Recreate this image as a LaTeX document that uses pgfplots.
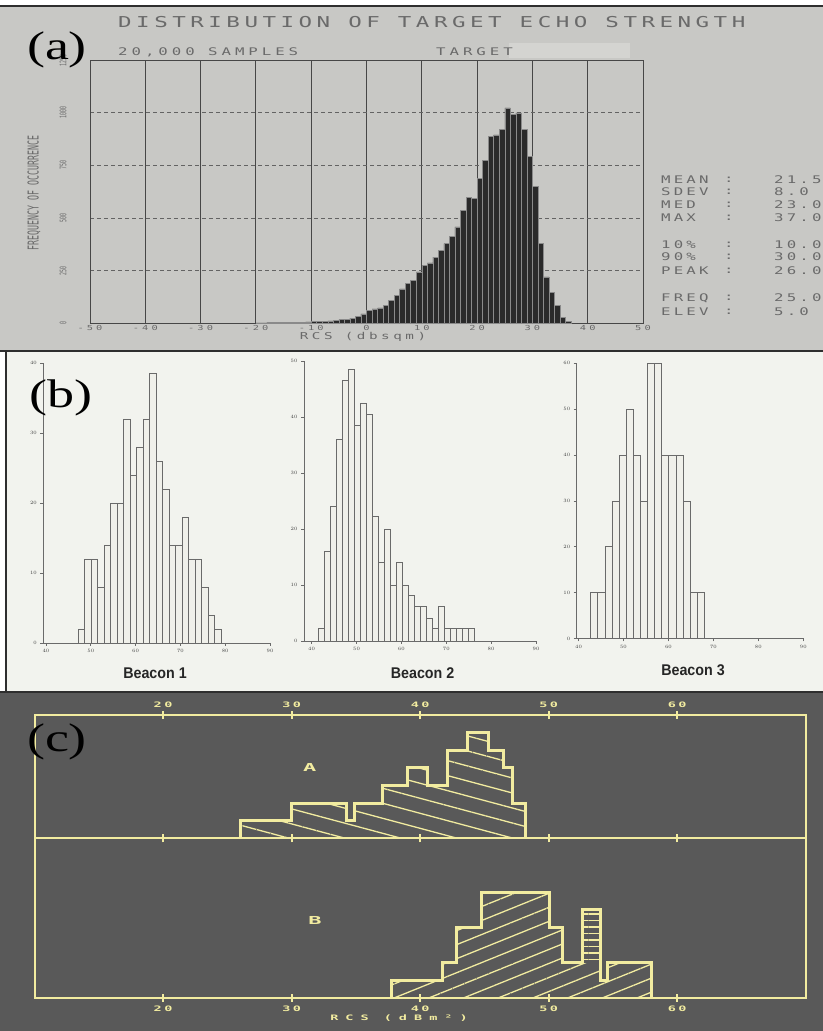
\documentclass[border=0pt]{standalone}
\usepackage{fontspec}
\usepackage{graphicx}
\usepackage{pgfplots}
\pgfplotsset{compat=1.18}
\usetikzlibrary{patterns.meta}
\setmainfont{Liberation Serif}
\newfontfamily\pfont{DejaVu Sans Mono}
\newfontfamily\pfontn{DejaVu Sans Mono}
\newfontfamily\yfont[LetterSpace=18]{DejaVu Sans Mono}
\newfontfamily\bfont{Liberation Sans}
\definecolor{pa}{HTML}{C8C8C5}
\definecolor{pb}{HTML}{F2F3EE}
\definecolor{pc}{HTML}{595959}
\definecolor{ink}{HTML}{6A6A6A}
\definecolor{gridc}{HTML}{474747}
\definecolor{barc}{HTML}{2A2A2A}
\definecolor{bard}{HTML}{8A8A8A}
\definecolor{yel}{HTML}{F2ECA0}
\definecolor{bfill}{HTML}{F0F0EA}
\definecolor{bdraw}{HTML}{6A6A6A}
\definecolor{rule}{HTML}{2E2E2E}
\definecolor{redact}{HTML}{D4D4D1}
% \atext[letter space]{size}{text}
\newcommand\atext[3][30]{\scalebox{1.5}[1]{\fontsize{#2bp}{#2bp}\selectfont\pfont\addfontfeature{LetterSpace=#1}#3}}
\newcommand\ntext[2]{\scalebox{0.55}[1]{\fontsize{#1bp}{#1bp}\selectfont\pfontn #2}}
\newcommand\ctext[1]{\scalebox{1.8}[1]{\fontsize{7.5bp}{8bp}\selectfont\yfont\bfseries #1}}
\newcommand\plbl[1]{\scalebox{1.35}[1]{\fontsize{40bp}{40bp}\selectfont #1}}
\newcommand\beac[1]{\scalebox{0.92}[1]{\fontsize{15.5bp}{15.5bp}\selectfont\bfont\bfseries #1}}
\begin{document}
\begin{tikzpicture}
\begin{scope}[x=1bp,y=1bp]
\useasboundingbox (0,0) rectangle (823,1031);
\fill[white] (0,0) rectangle (823,1031);
\fill[pa] (0,681) rectangle (823,1024);
\draw[rule, line width=1.5bp] (0,1025) -- (823,1025);
\fill[pb] (6,340) rectangle (823,680);
\draw[rule, line width=2bp] (0,680) -- (823,680);
\draw[rule, line width=2bp] (6,339) -- (6,680);
\fill[pc] (0,0) rectangle (823,338);
\draw[rule, line width=2bp] (0,339) -- (823,339);
\fill[redact] (509,973) rectangle (630,988);
\end{scope}

% ================= panel (a) =================
\begin{axis}[at={(90bp,707.7bp)}, anchor=south west, scale only axis,
  width=553bp, height=263bp,
  xmin=-50, xmax=50, ymin=0, ymax=1250,
  axis line style={draw=gridc, line width=1bp},
  xtick={-50,-40,-30,-20,-10,0,10,20,30,40,50},
  xticklabels={\atext{6.9}{-50},\atext{6.9}{-40},\atext{6.9}{-30},\atext{6.9}{-20},\atext{6.9}{-10},\atext{6.9}{0},\atext{6.9}{10},\atext{6.9}{20},\atext{6.9}{30},\atext{6.9}{40},\atext{6.9}{50}},
  ytick={0,250,500,750,1000,1250},
  yticklabels={\ntext{9}{0},\ntext{9}{250},\ntext{9}{500},\ntext{9}{750},\ntext{9}{1000},\ntext{9}{1250}},
  xtick pos=left, ytick pos=left,
  major tick length=0pt, tick style={draw=none},
  yticklabel shift=20bp, xticklabel shift=-1bp,
  yticklabel style={rotate=90, anchor=south, text=ink},
  xticklabel style={text=ink},
  xmajorgrids, ymajorgrids,
  x grid style={solid, draw=gridc, line width=1bp},
  y grid style={dash pattern=on 4bp off 3bp, draw=gridc!85, line width=0.8bp},
]
\addplot[ybar interval, fill=barc, draw=bard, line width=0.5bp] coordinates {
(-20,2)(-19,2)(-18,3)(-17,3)(-16,4)(-15,4)(-14,5)(-13,5)(-12,6)(-11,7)
(-10,8)(-9,9)(-8,10)(-7,12)(-6,14)(-5,17)(-4,20)(-3,25)(-2,32)(-1,45)
(0,60)(1,68)(2,73)(3,84)(4,108)(5,132)(6,164)(7,191)(8,204)(9,244)
(10,275)(11,287)(12,315)(13,347)(14,379)(15,414)(16,458)(17,538)(18,599)(19,594)
(20,689)(21,774)(22,888)(23,896)(24,923)(25,1024)(26,992)(27,1000)(28,920)(29,793)
(30,650)(31,379)(32,220)(33,148)(34,84)(35,29)(36,10)(37,0)};
\end{axis}

% ================= panel (b) =================
\pgfplotsset{beacon/.style={anchor=south west, scale only axis,
  xmax=90, ymin=0, axis lines*=left,
  axis line style={draw=bdraw, line width=0.9bp},
  xtick={40,50,60,70,80,90},
  tick align=outside, major tick length=3bp,
  tick style={draw=bdraw, line width=0.6bp},
  tick label style={font=\fontsize{4.5bp}{5bp}\selectfont, text=black!75}}}
\begin{axis}[beacon, at={(43.3bp,388bp)}, width=226.7bp, height=280bp,
  xmin=39.4, ymax=40, ytick={0,10,20,30,40}]
\addplot[ybar interval=0.88, fill=bfill, draw=bdraw, line width=0.7bp] coordinates {
(47.2,2)(48.65,12)(50.1,12)(51.55,8)(53.0,14)(54.45,20)(55.9,20)(57.35,32)
(58.8,24)(60.25,28)(61.7,32)(63.15,38.5)(64.6,26)(66.05,22)(67.5,14)(68.95,14)
(70.4,18)(71.85,12)(73.3,12)(74.75,8)(76.2,4)(77.65,2)(79.1,0)};
\addplot[draw=bdraw, line width=0.7bp] coordinates {(47.2,0)(80,0)};
\end{axis}
\begin{axis}[beacon, at={(304bp,390bp)}, width=232bp, height=280bp,
  xmin=38.3, ymax=50, ytick={0,10,20,30,40,50}]
\addplot[ybar interval=0.88, fill=bfill, draw=bdraw, line width=0.7bp] coordinates {
(41.6,2.2)(42.93,16)(44.26,24)(45.59,36)(46.92,46.5)(48.25,48.5)(49.58,38.5)
(50.91,42.5)(52.24,40.5)(53.57,22.2)(54.9,14)(56.23,20)(57.56,10)(58.89,14)
(60.22,10)(61.55,8.2)(62.88,6.1)(64.21,6.1)(65.54,4)(66.87,2.2)(68.2,6.1)
(69.53,2.2)(70.86,2.2)(72.19,2.2)(73.52,2.2)(74.85,2.2)(76.18,0)};
\addplot[draw=bdraw, line width=0.7bp] coordinates {(41.6,0)(80,0)};
\end{axis}
\begin{axis}[beacon, at={(576.7bp,392.5bp)}, width=226.6bp, height=275.2bp,
  xmin=39.6, ymax=60, ytick={0,10,20,30,40,50,60}]
\addplot[ybar interval=0.88, fill=bfill, draw=bdraw, line width=0.7bp] coordinates {
(42.7,10)(44.28,10)(45.86,20)(47.44,30)(49.02,40)(50.6,50)(52.18,40)(53.76,30)
(55.34,60)(56.92,60)(58.5,40)(60.08,40)(61.66,40)(63.24,30)(64.82,10)(66.4,10)(67.98,0)};
\addplot[draw=bdraw, line width=0.7bp] coordinates {(42.7,0)(80,0)};
\end{axis}

% ================= panel (c) =================
\begin{axis}[at={(34.5bp,192.5bp)}, anchor=south west, scale only axis,
  width=771.3bp, height=123.5bp,
  xmin=10, xmax=70, ymin=0, ymax=7,
  axis line style={draw=yel, line width=2bp},
  xtick={20,30,40,50,60}, ytick=\empty,
  xticklabels={\ctext{20},\ctext{30},\ctext{40},\ctext{50},\ctext{60}},
  xtick pos=both, xticklabel pos=right,
  tick align=center, major tick length=8bp,
  xtick style={draw=yel, line width=2bp},
  xticklabel style={text=yel},
]
\addplot[draw=none, pattern={Lines[angle=-15,distance=14.5bp,line width=1.3bp]}, pattern color=yel] coordinates {
(26,0)(26,1)(30,1)(30,2)(34.3,2)(34.3,1)(34.9,1)(34.9,2)(37.1,2)(37.1,3)(39,3)(39,4)
(40.6,4)(40.6,3)(42.1,3)(42.1,5)(43.7,5)(43.7,6)(45.3,6)(45.3,5)(46.5,5)(46.5,4)
(47.2,4)(47.2,2)(48.2,2)(48.2,0)} -- cycle;
\addplot[draw=yel, line width=3bp, line join=miter] coordinates {
(26,0)(26,1)(30,1)(30,2)(34.3,2)(34.3,1)(34.9,1)(34.9,2)(37.1,2)(37.1,3)(39,3)(39,4)
(40.6,4)(40.6,3)(42.1,3)(42.1,5)(43.7,5)(43.7,6)(45.3,6)(45.3,5)(46.5,5)(46.5,4)
(47.2,4)(47.2,2)(48.2,2)(48.2,0)};
\end{axis}
\begin{axis}[at={(34.5bp,33bp)}, anchor=south west, scale only axis,
  width=771.3bp, height=159.5bp,
  xmin=10, xmax=70, ymin=0, ymax=9.06,
  axis line style={draw=yel, line width=2bp},
  xtick={20,30,40,50,60}, ytick=\empty,
  xticklabels={\ctext{20},\ctext{30},\ctext{40},\ctext{50},\ctext{60}},
  xtick pos=left, xticklabel pos=left,
  tick align=center, major tick length=8bp,
  xtick style={draw=yel, line width=2bp},
  xticklabel style={text=yel},
]
\addplot[draw=none, pattern={Lines[angle=22,distance=13bp,line width=1.3bp]}, pattern color=yel] coordinates {
(37.8,0)(37.8,1)(41.7,1)(41.7,2)(42.8,2)(42.8,4)(44.8,4)(44.8,6)(50.1,6)(50.1,4)
(51.1,4)(51.1,2)(52.6,2)(52.6,5)(54.0,5)(54.0,1)(54.6,1)(54.6,2)(58.0,2)(58.0,0)} -- cycle;
\addplot[fill=pc, draw=none] coordinates {(52.6,2)(52.6,5)(54.0,5)(54.0,2)} -- cycle;
\addplot[draw=none, pattern={Lines[angle=0,distance=6.5bp,line width=1.2bp]}, pattern color=yel] coordinates {(52.6,2)(52.6,5)(54.0,5)(54.0,2)} -- cycle;
\addplot[draw=yel, line width=3bp, line join=miter] coordinates {
(37.8,0)(37.8,1)(41.7,1)(41.7,2)(42.8,2)(42.8,4)(44.8,4)(44.8,6)(50.1,6)(50.1,4)
(51.1,4)(51.1,2)(52.6,2)(52.6,5)(54.0,5)(54.0,1)(54.6,1)(54.6,2)(58.0,2)(58.0,0)};
\end{axis}

% ================= texts =================
\begin{scope}[x=1bp,y=1bp]
\node[anchor=west, text=ink, inner sep=0] at (118,1009) {\atext[20]{15}{DISTRIBUTION OF TARGET ECHO STRENGTH}};
\node[anchor=west, text=ink, inner sep=0] at (118,979) {\atext[25]{10.5}{20,000 SAMPLES}};
\node[anchor=west, text=ink, inner sep=0] at (436,979) {\atext[25]{10.5}{TARGET}};
\node[rotate=90, text=ink, inner sep=0] at (34,838) {\ntext{15}{FREQUENCY OF OCCURRENCE}};
\node[text=ink, inner sep=0] at (363,694) {\atext[25]{9.5}{RCS (dbsqm)}};
\node[anchor=west, text=ink, inner sep=0] at (661,851) {\atext[20]{10.5}{MEAN}};
\node[anchor=west, text=ink, inner sep=0] at (661,839) {\atext[20]{10.5}{SDEV}};
\node[anchor=west, text=ink, inner sep=0] at (661,826) {\atext[20]{10.5}{MED}};
\node[anchor=west, text=ink, inner sep=0] at (661,813) {\atext[20]{10.5}{MAX}};
\node[anchor=west, text=ink, inner sep=0] at (661,786) {\atext[20]{10.5}{10\%}};
\node[anchor=west, text=ink, inner sep=0] at (661,774) {\atext[20]{10.5}{90\%}};
\node[anchor=west, text=ink, inner sep=0] at (661,760) {\atext[20]{10.5}{PEAK}};
\node[anchor=west, text=ink, inner sep=0] at (661,733) {\atext[20]{10.5}{FREQ}};
\node[anchor=west, text=ink, inner sep=0] at (661,719) {\atext[20]{10.5}{ELEV}};
\foreach \yy in {851,839,826,813,786,774,760,733,719}
  \node[anchor=west, text=ink, inner sep=0] at (724,\yy) {\atext[20]{10.5}{:}};
\node[anchor=west, text=ink, inner sep=0] at (774,851) {\atext[20]{10.5}{21.5}};
\node[anchor=west, text=ink, inner sep=0] at (774,839) {\atext[20]{10.5}{8.0}};
\node[anchor=west, text=ink, inner sep=0] at (774,826) {\atext[20]{10.5}{23.0}};
\node[anchor=west, text=ink, inner sep=0] at (774,813) {\atext[20]{10.5}{37.0}};
\node[anchor=west, text=ink, inner sep=0] at (774,786) {\atext[20]{10.5}{10.0}};
\node[anchor=west, text=ink, inner sep=0] at (774,774) {\atext[20]{10.5}{30.0}};
\node[anchor=west, text=ink, inner sep=0] at (774,760) {\atext[20]{10.5}{26.0}};
\node[anchor=west, text=ink, inner sep=0] at (774,733) {\atext[20]{10.5}{25.0}};
\node[anchor=west, text=ink, inner sep=0] at (774,719) {\atext[20]{10.5}{5.0}};
\node[inner sep=0] at (57,981) {\plbl{(a)}};
\node[text=black!85, inner sep=0] at (155,358) {\beac{Beacon 1}};
\node[text=black!85, inner sep=0] at (422.6,358) {\beac{Beacon 2}};
\node[text=black!85, inner sep=0] at (693,361) {\beac{Beacon 3}};
\node[inner sep=0] at (61,633) {\plbl{(b)}};
\node[text=yel, inner sep=0] at (309.7,263.3) {\scalebox{2.0}[1]{\fontsize{11bp}{11bp}\selectfont\yfont\bfseries A}};
\node[text=yel, inner sep=0] at (315,111) {\scalebox{2.0}[1]{\fontsize{11bp}{11bp}\selectfont\yfont\bfseries B}};
\node[text=yel, inner sep=0] at (399,13) {\scalebox{1.8}[1]{\fontsize{7.5bp}{8bp}\selectfont\yfont\bfseries\addfontfeature{LetterSpace=52}RCS (dBm²)}};
\node[inner sep=0] at (57,289) {\plbl{(c)}};
\end{scope}
\end{tikzpicture}
\end{document}
